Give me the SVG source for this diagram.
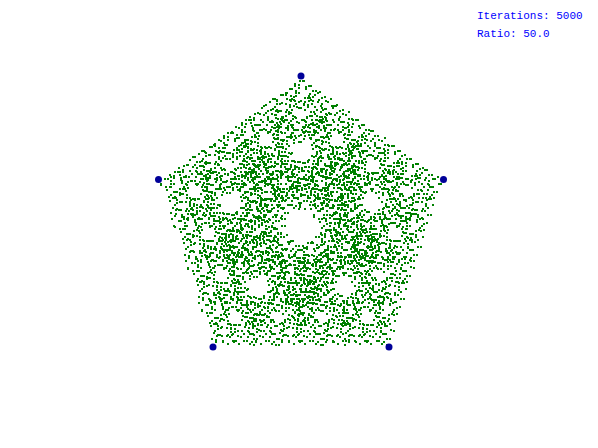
<svg xmlns="http://www.w3.org/2000/svg" xmlns:xlink="http://www.w3.org/1999/xlink" width="598" height="448" viewBox="0 0 598 448">
<style>
.dot{fill:#008000;shape-rendering:crispEdges}
.vtx{fill:#000099}
.lbl{font-family:"Liberation Mono","DejaVu Sans Mono",monospace;font-size:11px;fill:#0000ff}
</style>
<defs>
<rect id="d" class="dot" x="-1" y="-1" width="2" height="2"/>
<g id="g5a">
<use href="#d" xlink:href="#d" x="1.54" y="-4.46"/>
<use href="#d" xlink:href="#d" x="-1.38" y="-3.96"/>
<use href="#d" xlink:href="#d" x="3.35" y="-4.15"/>
<use href="#d" xlink:href="#d" x="-6.00" y="-1.22"/>
<use href="#d" xlink:href="#d" x="-1.97" y="0.09"/>
<use href="#d" xlink:href="#d" x="4.99" y="1.90"/>
<use href="#d" xlink:href="#d" x="-2.07" y="2.40"/>
<use href="#d" xlink:href="#d" x="-5.25" y="5.33"/>
</g>
<g id="g5b">
<use href="#d" xlink:href="#d" x="-1.12" y="-5.77"/>
<use href="#d" xlink:href="#d" x="6.00" y="-1.22"/>
<use href="#d" xlink:href="#d" x="3.08" y="-0.72"/>
<use href="#d" xlink:href="#d" x="-3.77" y="-2.84"/>
<use href="#d" xlink:href="#d" x="3.03" y="5.33"/>
<use href="#d" xlink:href="#d" x="0.53" y="1.90"/>
<use href="#d" xlink:href="#d" x="-1.22" y="4.02"/>
<use href="#d" xlink:href="#d" x="0.69" y="-6.08"/>
</g>
<g id="g5c">
<use href="#d" xlink:href="#d" x="0.27" y="-3.15"/>
<use href="#d" xlink:href="#d" x="6.53" y="1.40"/>
<use href="#d" xlink:href="#d" x="-2.23" y="-3.34"/>
<use href="#d" xlink:href="#d" x="-6.53" y="1.40"/>
<use href="#d" xlink:href="#d" x="3.87" y="1.09"/>
<use href="#d" xlink:href="#d" x="-6.10" y="2.71"/>
<use href="#d" xlink:href="#d" x="-1.38" y="4.52"/>
<use href="#d" xlink:href="#d" x="3.34" y="-5.77"/>
</g>
<g id="g4a">
<use href="#g5a" xlink:href="#g5a" x="0" y="-9.375"/>
<use href="#g5b" xlink:href="#g5b" x="8.92" y="-2.90"/>
<use href="#g5c" xlink:href="#g5c" x="-8.92" y="-2.90"/>
<use href="#g5a" xlink:href="#g5a" x="5.51" y="7.58"/>
<use href="#g5b" xlink:href="#g5b" x="-5.51" y="7.58"/>
</g>
<g id="g4b">
<use href="#g5c" xlink:href="#g5c" x="0" y="-9.375"/>
<use href="#g5a" xlink:href="#g5a" x="8.92" y="-2.90"/>
<use href="#g5b" xlink:href="#g5b" x="-8.92" y="-2.90"/>
<use href="#g5c" xlink:href="#g5c" x="5.51" y="7.58"/>
<use href="#g5a" xlink:href="#g5a" x="-5.51" y="7.58"/>
</g>
<g id="g4c">
<use href="#g5b" xlink:href="#g5b" x="0" y="-9.375"/>
<use href="#g5c" xlink:href="#g5c" x="8.92" y="-2.90"/>
<use href="#g5a" xlink:href="#g5a" x="-8.92" y="-2.90"/>
<use href="#g5b" xlink:href="#g5b" x="5.51" y="7.58"/>
<use href="#g5c" xlink:href="#g5c" x="-5.51" y="7.58"/>
</g>
<g id="g3a">
<use href="#g4a" xlink:href="#g4a" x="0" y="-18.75"/>
<use href="#g4c" xlink:href="#g4c" x="17.83" y="-5.79"/>
<use href="#g4b" xlink:href="#g4b" x="-17.83" y="-5.79"/>
<use href="#g4b" xlink:href="#g4b" x="11.02" y="15.17"/>
<use href="#g4c" xlink:href="#g4c" x="-11.02" y="15.17"/>
</g>
<g id="g3b">
<use href="#g4c" xlink:href="#g4c" x="0" y="-18.75"/>
<use href="#g4a" xlink:href="#g4a" x="17.83" y="-5.79"/>
<use href="#g4a" xlink:href="#g4a" x="-17.83" y="-5.79"/>
<use href="#g4c" xlink:href="#g4c" x="11.02" y="15.17"/>
<use href="#g4b" xlink:href="#g4b" x="-11.02" y="15.17"/>
</g>
<g id="g2a">
<use href="#g3a" xlink:href="#g3a" x="0" y="-37.5"/>
<use href="#g3b" xlink:href="#g3b" x="35.67" y="-11.59"/>
<use href="#g3b" xlink:href="#g3b" x="-35.67" y="-11.59"/>
<use href="#g3a" xlink:href="#g3a" x="22.04" y="30.34"/>
<use href="#g3b" xlink:href="#g3b" x="-22.04" y="30.34"/>
</g>
<g id="g2b">
<use href="#g3b" xlink:href="#g3b" x="0" y="-37.5"/>
<use href="#g3a" xlink:href="#g3a" x="35.67" y="-11.59"/>
<use href="#g3a" xlink:href="#g3a" x="-35.67" y="-11.59"/>
<use href="#g3b" xlink:href="#g3b" x="22.04" y="30.34"/>
<use href="#g3a" xlink:href="#g3a" x="-22.04" y="30.34"/>
</g>
</defs>
<rect width="598" height="448" fill="#ffffff"/>
<g id="points" transform="translate(301,226)">
<use href="#g2a" xlink:href="#g2a" x="0" y="-75"/>
<use href="#g2b" xlink:href="#g2b" x="71.33" y="-23.18"/>
<use href="#g2a" xlink:href="#g2a" x="-71.33" y="-23.18"/>
<use href="#g2b" xlink:href="#g2b" x="44.09" y="60.68"/>
<use href="#g2a" xlink:href="#g2a" x="-44.09" y="60.68"/>
</g>
<g id="vertex-top"><circle class="vtx" cx="301" cy="76" r="3.5"/></g>
<g id="vertex-right"><circle class="vtx" cx="443.5" cy="179.5" r="3.5"/></g>
<g id="vertex-left"><circle class="vtx" cx="158.5" cy="179.5" r="3.5"/></g>
<g id="vertex-bottom-right"><circle class="vtx" cx="389" cy="347" r="3.5"/></g>
<g id="vertex-bottom-left"><circle class="vtx" cx="213" cy="347" r="3.5"/></g>
<g id="info">
<text class="lbl" x="477" y="18.5">Iterations: 5000</text>
<text class="lbl" x="477" y="36.5">Ratio: 50.0</text>
</g>
</svg>
